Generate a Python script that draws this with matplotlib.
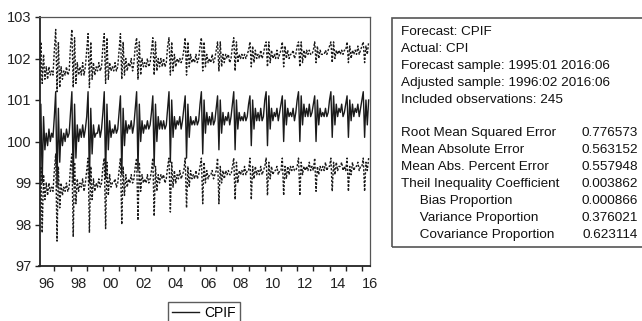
import matplotlib
matplotlib.use("Agg")
import matplotlib.pyplot as plt
import matplotlib.patches as patches
import numpy as np
import pandas as pd

plt.rcParams["font.family"] = ["Liberation Sans", "DejaVu Sans"]

# ---------------------------------------------------------------------------
# Data: monthly forecast 1996:02 - 2016:06 (245 obs)
# ---------------------------------------------------------------------------
start_month = "1996-02"
end_month = "2016-06"

cpif = [
    99.4, 100.9, 99.0, 100.6, 99.8, 100.2, 99.9, 100.3, 100.0, 100.2, 100.1,                 # 1996
    100.6, 101.2, 98.9, 100.8, 99.5, 100.3, 99.9, 100.2, 100.0, 100.3, 100.1, 100.2,         # 1997
    100.7, 101.2, 99.0, 100.9, 99.6, 100.4, 100.0, 100.3, 100.1, 100.4, 100.1, 100.3,        # 1998
    100.6, 101.2, 99.0, 100.8, 99.7, 100.4, 100.1, 100.2, 100.2, 100.4, 100.1, 100.3,        # 1999
    100.7, 101.2, 99.1, 100.9, 99.8, 100.5, 100.1, 100.3, 100.2, 100.4, 100.2, 100.3,        # 2000
    100.7, 101.1, 99.2, 100.8, 99.9, 100.5, 100.2, 100.4, 100.3, 100.5, 100.2, 100.4,        # 2001
    100.8, 101.2, 99.3, 100.9, 100.0, 100.5, 100.2, 100.4, 100.3, 100.5, 100.3, 100.4,       # 2002
    100.7, 101.1, 99.4, 100.9, 100.0, 100.6, 100.3, 100.5, 100.3, 100.5, 100.3, 100.4,       # 2003
    100.8, 101.2, 99.5, 101.0, 100.1, 100.6, 100.3, 100.5, 100.4, 100.6, 100.3, 100.5,       # 2004
    100.8, 101.1, 99.6, 100.9, 100.1, 100.6, 100.4, 100.5, 100.4, 100.6, 100.4, 100.5,       # 2005
    100.9, 101.2, 99.7, 101.0, 100.2, 100.7, 100.4, 100.6, 100.4, 100.7, 100.4, 100.5,       # 2006
    100.8, 101.1, 99.8, 101.0, 100.2, 100.7, 100.4, 100.6, 100.5, 100.7, 100.4, 100.6,       # 2007
    100.9, 101.2, 99.8, 101.0, 100.3, 100.7, 100.5, 100.6, 100.5, 100.7, 100.5, 100.6,       # 2008
    100.9, 101.1, 99.9, 101.0, 100.3, 100.8, 100.5, 100.7, 100.5, 100.8, 100.5, 100.6,       # 2009
    101.0, 101.2, 99.9, 101.1, 100.3, 100.8, 100.5, 100.7, 100.6, 100.8, 100.5, 100.7,       # 2010
    100.9, 101.1, 100.0, 101.0, 100.4, 100.8, 100.6, 100.7, 100.6, 100.8, 100.5, 100.7,      # 2011
    101.0, 101.2, 100.0, 101.1, 100.4, 100.9, 100.6, 100.8, 100.6, 100.9, 100.6, 100.7,      # 2012
    100.9, 101.1, 100.0, 101.0, 100.4, 100.8, 100.6, 100.7, 100.6, 100.8, 100.6, 100.7,      # 2013
    101.0, 101.2, 100.1, 101.1, 100.4, 100.9, 100.6, 100.8, 100.7, 100.9, 100.6, 100.7,      # 2014
    100.9, 101.1, 100.1, 101.0, 100.5, 100.9, 100.6, 100.8, 100.7, 100.9, 100.6, 100.8,      # 2015
    101.0, 101.2, 100.1, 101.0, 100.4, 101.0,                                                # 2016
]

upper = [
    101.3, 102.4, 101.4, 102.1, 101.5, 101.8, 101.5, 101.8, 101.6, 101.7, 101.6,             # 1996
    102.2, 102.7, 101.2, 102.4, 101.3, 101.8, 101.5, 101.7, 101.6, 101.8, 101.6, 101.7,      # 1997
    102.3, 102.7, 101.3, 102.5, 101.4, 101.9, 101.6, 101.8, 101.6, 101.9, 101.6, 101.8,      # 1998
    102.2, 102.6, 101.3, 102.4, 101.5, 101.9, 101.6, 101.8, 101.7, 101.9, 101.7, 101.8,      # 1999
    102.3, 102.6, 101.4, 102.5, 101.5, 101.9, 101.7, 101.8, 101.7, 101.9, 101.7, 101.8,      # 2000
    102.2, 102.6, 101.5, 102.4, 101.6, 102.0, 101.7, 101.9, 101.8, 102.0, 101.7, 101.9,      # 2001
    102.3, 102.5, 101.5, 102.4, 101.6, 102.0, 101.8, 101.9, 101.8, 102.0, 101.8, 101.9,      # 2002
    102.2, 102.5, 101.6, 102.4, 101.7, 102.0, 101.8, 102.0, 101.8, 102.0, 101.8, 101.9,      # 2003
    102.3, 102.5, 101.6, 102.4, 101.7, 102.1, 101.8, 102.0, 101.9, 102.0, 101.9, 102.0,      # 2004
    102.2, 102.5, 101.6, 102.4, 101.8, 102.1, 101.9, 102.0, 101.9, 102.1, 101.9, 102.0,      # 2005
    102.3, 102.5, 101.7, 102.4, 101.8, 102.1, 101.9, 102.0, 101.9, 102.1, 101.9, 102.0,      # 2006
    102.2, 102.4, 101.7, 102.4, 101.8, 102.1, 101.9, 102.1, 102.0, 102.1, 101.9, 102.0,      # 2007
    102.3, 102.5, 101.7, 102.4, 101.9, 102.1, 102.0, 102.1, 102.0, 102.1, 102.0, 102.1,      # 2008
    102.2, 102.4, 101.8, 102.3, 101.9, 102.2, 102.0, 102.1, 102.0, 102.2, 102.0, 102.1,      # 2009
    102.3, 102.4, 101.8, 102.4, 101.9, 102.2, 102.0, 102.1, 102.0, 102.2, 102.0, 102.1,      # 2010
    102.2, 102.4, 101.8, 102.3, 102.0, 102.2, 102.0, 102.1, 102.1, 102.2, 102.0, 102.1,      # 2011
    102.3, 102.4, 101.8, 102.4, 101.9, 102.2, 102.0, 102.2, 102.1, 102.2, 102.1, 102.1,      # 2012
    102.2, 102.4, 101.9, 102.3, 102.0, 102.2, 102.1, 102.1, 102.1, 102.2, 102.1, 102.2,      # 2013
    102.3, 102.4, 101.9, 102.4, 102.0, 102.2, 102.1, 102.2, 102.1, 102.2, 102.1, 102.2,      # 2014
    102.2, 102.4, 101.9, 102.3, 102.0, 102.2, 102.1, 102.2, 102.1, 102.3, 102.1, 102.2,      # 2015
    102.3, 102.4, 101.9, 102.3, 102.1, 102.4,                                                # 2016
]

lower = [
    98.2, 99.4, 97.8, 99.2, 98.6, 99.0, 98.7, 99.0, 98.8, 98.9, 98.8,                        # 1996
    99.3, 99.7, 97.6, 99.4, 98.4, 99.0, 98.7, 98.9, 98.8, 99.0, 98.8, 98.9,                  # 1997
    99.4, 99.7, 97.7, 99.5, 98.5, 99.1, 98.8, 99.0, 98.9, 99.1, 98.8, 99.0,                  # 1998
    99.3, 99.6, 97.8, 99.4, 98.6, 99.1, 98.8, 99.0, 98.9, 99.1, 98.9, 99.0,                  # 1999
    99.4, 99.6, 97.9, 99.5, 98.7, 99.2, 98.9, 99.0, 99.0, 99.1, 98.9, 99.0,                  # 2000
    99.3, 99.6, 98.0, 99.4, 98.7, 99.2, 98.9, 99.1, 99.0, 99.2, 99.0, 99.1,                  # 2001
    99.4, 99.6, 98.1, 99.5, 98.8, 99.2, 99.0, 99.1, 99.0, 99.2, 99.0, 99.1,                  # 2002
    99.3, 99.6, 98.2, 99.4, 98.8, 99.2, 99.0, 99.2, 99.1, 99.2, 99.0, 99.1,                  # 2003
    99.4, 99.6, 98.3, 99.5, 98.9, 99.3, 99.0, 99.2, 99.1, 99.3, 99.1, 99.2,                  # 2004
    99.3, 99.6, 98.4, 99.4, 98.9, 99.3, 99.1, 99.2, 99.1, 99.3, 99.1, 99.2,                  # 2005
    99.4, 99.6, 98.5, 99.5, 99.0, 99.3, 99.1, 99.2, 99.2, 99.3, 99.1, 99.2,                  # 2006
    99.3, 99.6, 98.5, 99.4, 99.0, 99.3, 99.1, 99.3, 99.2, 99.3, 99.2, 99.2,                  # 2007
    99.4, 99.6, 98.6, 99.5, 99.0, 99.3, 99.2, 99.3, 99.2, 99.4, 99.2, 99.3,                  # 2008
    99.3, 99.6, 98.6, 99.4, 99.1, 99.4, 99.2, 99.3, 99.2, 99.4, 99.2, 99.3,                  # 2009
    99.4, 99.6, 98.7, 99.5, 99.1, 99.4, 99.2, 99.3, 99.3, 99.4, 99.2, 99.3,                  # 2010
    99.3, 99.6, 98.7, 99.4, 99.1, 99.4, 99.2, 99.4, 99.3, 99.4, 99.3, 99.3,                  # 2011
    99.4, 99.6, 98.7, 99.5, 99.2, 99.4, 99.3, 99.4, 99.3, 99.5, 99.3, 99.4,                  # 2012
    99.3, 99.6, 98.8, 99.4, 99.2, 99.4, 99.3, 99.4, 99.3, 99.5, 99.3, 99.4,                  # 2013
    99.4, 99.6, 98.8, 99.5, 99.2, 99.5, 99.3, 99.4, 99.4, 99.5, 99.3, 99.4,                  # 2014
    99.3, 99.6, 98.8, 99.4, 99.2, 99.5, 99.3, 99.4, 99.4, 99.5, 99.3, 99.4,                  # 2015
    99.4, 99.6, 98.8, 99.5, 99.3, 99.6,                                                      # 2016
]

y_ticks = [97, 98, 99, 100, 101, 102, 103]
year_labels = ["96", "98", "00", "02", "04", "06", "08", "10", "12", "14", "16"]

stat_header = [
    "Forecast: CPIF",
    "Actual: CPI",
    "Forecast sample: 1995:01 2016:06",
    "Adjusted sample: 1996:02 2016:06",
    "Included observations: 245",
]
stat_names = [
    "Root Mean Squared Error",
    "Mean Absolute Error",
    "Mean Abs. Percent Error",
    "Theil Inequality Coefficient",
    "     Bias Proportion",
    "     Variance Proportion",
    "     Covariance Proportion",
]
stat_values = ["0.776573", "0.563152", "0.557948", "0.003862",
               "0.000866", "0.376021", "0.623114"]

# ---------------------------------------------------------------------------
# Plot
# ---------------------------------------------------------------------------
W, H = 642, 321
fig = plt.figure(figsize=(W / 100, H / 100), dpi=100)

def px_box(x0, y0, x1, y1):
    """pixel box (top-left origin) -> figure fraction rect"""
    return [x0 / W, 1 - y1 / H, (x1 - x0) / W, (y1 - y0) / H]

months = pd.period_range(start_month, end_month, freq="M")
t = months.year + (months.month - 1) / 12.0

ax = fig.add_axes(px_box(39.5, 17, 370, 266))
ink = "#1a1a1a"
ax.plot(t, upper, color=ink, lw=1.0, ls=(0, (1.6, 1.2)))
ax.plot(t, lower, color=ink, lw=1.0, ls=(0, (1.6, 1.2)))
line_cpif, = ax.plot(t, cpif, color=ink, lw=1.0, label="CPIF")

ax.set_xlim(t[0], 2016.5)
ax.set_ylim(97, 103)
ax.set_yticks(y_ticks)
ax.set_yticklabels([str(v) for v in y_ticks])

# year labels sit mid-year, tick marks at each January
label_pos = [int("19" + s) + 0.5 if s >= "50" else int("20" + s) + 0.5 for s in year_labels]
ax.set_xticks(label_pos)
ax.set_xticklabels(year_labels)
ax.set_xticks(np.arange(1997, 2017), minor=True)
ax.tick_params(axis="x", which="major", length=0, pad=8, labelsize=10.5, colors="#222")
ax.tick_params(axis="x", which="minor", length=3.5, width=1.0, direction="out", color="#222")
ax.tick_params(axis="y", length=3.5, width=1.0, direction="out", pad=2.5, labelsize=10.5, colors="#222")

for side in ("left", "bottom"):
    ax.spines[side].set_linewidth(1.3)
    ax.spines[side].set_color("#222")
for side in ("top", "right"):
    ax.spines[side].set_linewidth(0.9)
    ax.spines[side].set_color("#555")

leg = fig.legend(handles=[line_cpif], loc="upper left",
                 bbox_to_anchor=(168 / W, 1 - 302 / H),
                 frameon=True, fancybox=False, fontsize=10,
                 handlelength=1.9, handletextpad=0.4, borderpad=0.3,
                 borderaxespad=0)
leg.get_frame().set_edgecolor("#333")
leg.get_frame().set_linewidth(1.0)

# statistics box on the right
box = patches.Rectangle((392 / W, 1 - 247 / H), (W + 5 - 392) / W, (247 - 18) / H,
                        transform=fig.transFigure, fill=False,
                        edgecolor="#555", linewidth=1.2, clip_on=False)
fig.add_artist(box)

text_x = 401 / W
value_x = 638 / W
y0 = 32
dy = 16.9
fs = 9.7
for i, s in enumerate(stat_header):
    fig.text(text_x, 1 - (y0 + i * dy) / H, s, fontsize=fs, va="center", ha="left", color="#111")
for i, (name, val) in enumerate(zip(stat_names, stat_values)):
    yy = 1 - (y0 + (i + 5) * dy + 1.0 * dy) / H
    fig.text(text_x, yy, name, fontsize=fs, va="center", ha="left", color="#111")
    fig.text(value_x, yy, val, fontsize=fs, va="center", ha="right", color="#111")

fig.savefig("out.png", dpi=100)
